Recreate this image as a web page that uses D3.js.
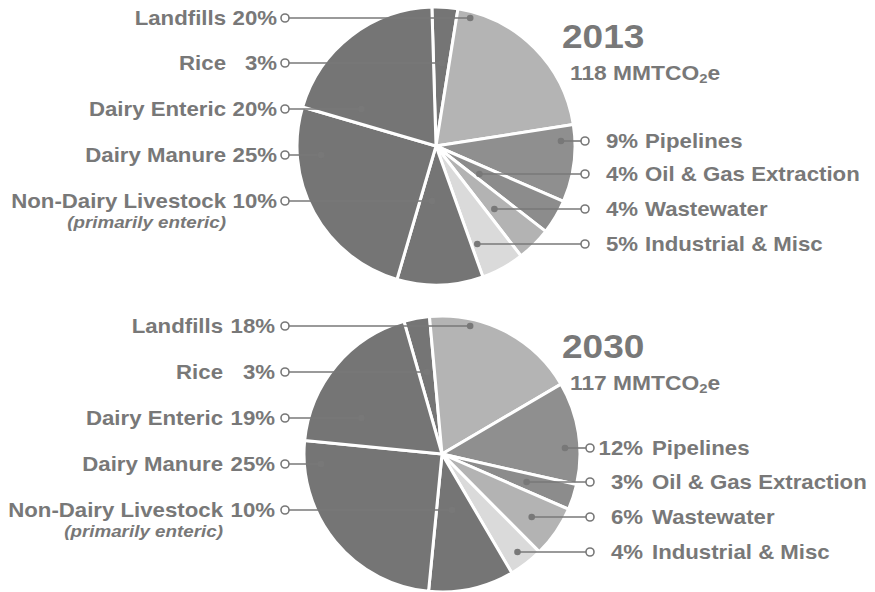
<!DOCTYPE html>
<html>
<head>
<meta charset="utf-8">
<script src="https://cdn.jsdelivr.net/npm/d3@7"></script>
<style>
  html, body { margin: 0; padding: 0; background: #fff; }
  svg { display: block; }
  text { font-family: "Liberation Sans", Arial, Helvetica, sans-serif; font-weight: bold; fill: #787878; white-space: pre; }
</style>
</head>
<body>
<svg id="chart" width="875" height="592"></svg>
<script>
// ---- Data ----
const categories = ["Rice", "Landfills", "Pipelines", "Oil & Gas Extraction", "Wastewater",
                    "Industrial & Misc", "Non-Dairy Livestock", "Dairy Manure", "Dairy Enteric"];
const values2013 = [3, 20, 9, 4, 4, 5, 10, 25, 20];
const values2030 = [3, 18, 12, 3, 6, 4, 10, 25, 19];
const years = ["2013", "2030"];
const totals = [118, 117];
const leftCategories = ["Landfills", "Rice", "Dairy Enteric", "Dairy Manure", "Non-Dairy Livestock"];
const rightCategories = ["Pipelines", "Oil & Gas Extraction", "Wastewater", "Industrial & Misc"];
const noteText = "(primarily enteric)";

// ---- Styling / layout ----
const sliceColors = {
  "Rice": "#757575", "Landfills": "#b4b4b4", "Pipelines": "#8f8f8f",
  "Oil & Gas Extraction": "#8c8c8c", "Wastewater": "#b3b3b3", "Industrial & Misc": "#dadada",
  "Non-Dairy Livestock": "#757575", "Dairy Manure": "#757575", "Dairy Enteric": "#757575"
};
const SX = 1.14;           // horizontal stretch of the original artwork text
const ink = "#787878";
const layouts = [
  { cx: 436, cy: 146, r: 139, start: -1.7,
    leftY: [-128, -83, -37, 9, 55], rightY: [-5, 28, 63, 98],
    leftDot: [0.246, 0.043, -0.536, -0.826, -0.029], rightDot: [0.899, 0.312, 0.42, 0.297],
    nameEnd: 226, pctEnd: 277, rPctEnd: 638, rNameStart: 645,
    titleX: 562, titleY: 48, subX: 570, subY: 80 },
  { cx: 442, cy: 454, r: 138, start: -16,
    leftY: [-128, -82, -36, 10, 56], rightY: [-6, 28, 63, 98],
    leftDot: [0.204, -0.109, -0.584, -0.876, 0.073], rightDot: [0.891, 0.613, 0.65, 0.547],
    nameEnd: 223, pctEnd: 275, rPctEnd: 643, rNameStart: 652,
    titleX: 562, titleY: 358, subX: 570, subY: 390 }
];
const leftCircleX = 285;

const svg = d3.select("#chart");

function addText(parent, x, y, str, size, anchor, italic) {
  const t = parent.append("text")
    .attr("transform", `translate(${x},${y}) scale(${SX},1)`)
    .attr("text-anchor", anchor)
    .attr("font-size", size)
    .text(str);
  if (italic) t.attr("font-style", "italic");
  return t;
}

[values2013, values2030].forEach((vals, i) => {
  const L = layouts[i];
  const data = categories.map((c, k) => ({ cat: c, v: vals[k] }));
  const a0 = L.start * Math.PI / 180;
  const pie = d3.pie().sort(null).value(d => d.v).startAngle(a0).endAngle(a0 + 2 * Math.PI);
  const arc = d3.arc().innerRadius(0).outerRadius(L.r);
  const g = svg.append("g").attr("transform", `translate(${L.cx},${L.cy})`);

  g.selectAll("path.slice").data(pie(data)).join("path")
    .attr("class", "slice")
    .attr("d", arc)
    .attr("fill", d => sliceColors[d.data.cat])
    .attr("stroke", "#fff")
    .attr("stroke-width", 3)
    .attr("stroke-linejoin", "round");

  const valOf = c => vals[categories.indexOf(c)];

  // left leaders + labels
  leftCategories.forEach((c, k) => {
    const y = L.leftY[k];
    const dotX = L.leftDot[k] * L.r;
    const cX = leftCircleX - L.cx;
    g.append("line").attr("x1", cX + 4).attr("x2", dotX).attr("y1", y).attr("y2", y)
      .attr("stroke", ink).attr("stroke-width", 1.6);
    g.append("circle").attr("cx", dotX).attr("cy", y).attr("r", 3.3).attr("fill", ink);
    g.append("circle").attr("cx", cX).attr("cy", y).attr("r", 4)
      .attr("fill", "#fff").attr("stroke", ink).attr("stroke-width", 1.6);
    const base = L.cy + y + 7;
    addText(svg, L.nameEnd, base, c, 19.5, "end");
    addText(svg, L.pctEnd, base, valOf(c) + "%", 19.5, "end");
    if (c === "Non-Dairy Livestock") {
      addText(svg, L.nameEnd, base + 20, noteText, 16.5, "end", true);
    }
  });

  // right leaders + labels
  rightCategories.forEach((c, k) => {
    const y = L.rightY[k];
    const dotX = L.rightDot[k] * L.r;
    const cX = L.r + 10;
    g.append("line").attr("x1", dotX).attr("x2", cX - 4).attr("y1", y).attr("y2", y)
      .attr("stroke", ink).attr("stroke-width", 1.6);
    g.append("circle").attr("cx", dotX).attr("cy", y).attr("r", 3.3).attr("fill", ink);
    g.append("circle").attr("cx", cX).attr("cy", y).attr("r", 4)
      .attr("fill", "#fff").attr("stroke", ink).attr("stroke-width", 1.6);
    const base = L.cy + y + 7;
    addText(svg, L.rPctEnd, base, valOf(c) + "%", 19.5, "end");
    addText(svg, L.rNameStart, base, c, 19.5, "start");
  });

  // title + total
  addText(svg, L.titleX, L.titleY, years[i], 32.5, "start");
  const sub = addText(svg, L.subX, L.subY, totals[i] + " MMTCO", 20, "start");
  sub.append("tspan").attr("font-size", 13).attr("dy", 3).text("2");
  sub.append("tspan").attr("font-size", 20).attr("dy", -3).text("e");
});
</script>
</body>
</html>
